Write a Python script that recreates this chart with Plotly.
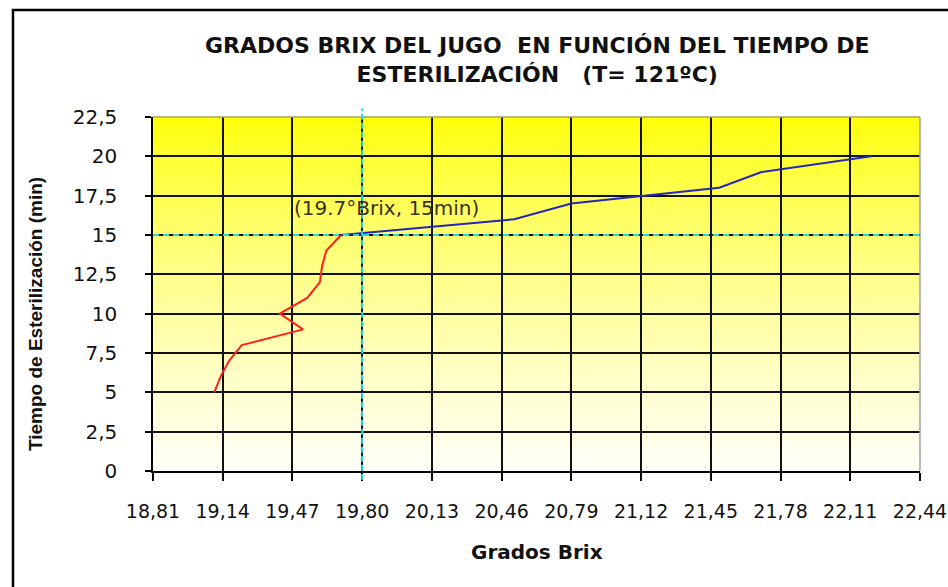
import plotly.graph_objects as go

# ---- data ----
red_time = [5, 6, 7, 8, 9, 10, 11, 12, 13, 14, 15]
red_brix = [19.10, 19.13, 19.17, 19.23, 19.52, 19.41, 19.54, 19.60, 19.61, 19.63, 19.70]

blue_time = [15, 16, 17, 18, 19, 20]
blue_brix = [19.70, 20.52, 20.79, 21.49, 21.69, 22.21]

x_ticks = [18.81, 19.14, 19.47, 19.80, 20.13, 20.46, 20.79, 21.12, 21.45, 21.78, 22.11, 22.44]
y_ticks = [0, 2.5, 5, 7.5, 10, 12.5, 15, 17.5, 20, 22.5]

ref_brix = 19.80
ref_time = 15
note_text = "(19.7°Brix, 15min)"
note_brix = 19.47
note_time = 16.7

title_text = "GRADOS BRIX DEL JUGO  EN FUNCIÓN DEL TIEMPO DE<br>ESTERILIZACIÓN   (T= 121ºC)"

fig = go.Figure()
fig.add_trace(go.Scatter(x=red_brix, y=red_time, mode="lines",
                         line=dict(color="#FF2020", width=2), showlegend=False))
fig.add_trace(go.Scatter(x=blue_brix, y=blue_time, mode="lines",
                         line=dict(color="#2626B8", width=2), showlegend=False))

shapes = []
# vertical gradient background (yellow at top -> near white at bottom)
n = 80
for i in range(n):
    f = (i + 0.5) / n  # from bottom
    b = int(round(250 * (1 - f) ** 0.75))
    shapes.append(dict(type="rect", xref="x domain", yref="y domain",
                       x0=0, x1=1, y0=i / n, y1=(i + 1) / n + 0.002,
                       fillcolor=f"rgb(255,255,{b})", line=dict(width=0), layer="below"))
# gray top / right plot border
shapes.append(dict(type="line", xref="x domain", yref="y domain", x0=0, x1=1, y0=1, y1=1,
                   line=dict(color="#A0A0A0", width=1.5), layer="above"))
shapes.append(dict(type="line", xref="x domain", yref="y domain", x0=1, x1=1, y0=0, y1=1,
                   line=dict(color="#A0A0A0", width=1.5), layer="above"))
# cyan dashed reference lines
shapes.append(dict(type="line", xref="x domain", yref="y", x0=0, x1=1, y0=ref_time, y1=ref_time,
                   line=dict(color="#25D5EA", width=2, dash="6px,4px"), layer="above"))
shapes.append(dict(type="line", xref="x", yref="y domain", x0=ref_brix, x1=ref_brix, y0=-0.025, y1=1.025,
                   line=dict(color="#25D5EA", width=2, dash="6px,3px"), layer="above"))
# outer frame
shapes.append(dict(type="rect", xref="paper", yref="paper", xsizemode="pixel", ysizemode="pixel",
                   xanchor=0, yanchor=1, x0=-140, x1=1000, y0=107, y1=-700,
                   line=dict(color="black", width=2.5), fillcolor="rgba(0,0,0,0)", layer="above"))

annotations = [
    dict(text=title_text, xref="paper", yref="paper", x=0.5, y=1, xanchor="center", yanchor="bottom",
         yshift=28, showarrow=False, align="center",
         font=dict(family="DejaVu Sans", size=22, color="#111", weight="bold")),
    dict(text=note_text, xref="x", yref="y", x=note_brix, y=note_time, xanchor="left", yanchor="middle",
         showarrow=False, font=dict(family="DejaVu Sans", size=20, color="#3a3020")),
    dict(text="Grados Brix", xref="paper", yref="paper", x=0.5, y=0, xanchor="center", yanchor="middle",
         yshift=-81, showarrow=False,
         font=dict(family="DejaVu Sans", size=20, color="#111", weight="bold")),
    dict(text="Tiempo de Esterilización (min)", xref="paper", yref="paper", x=0, y=0.5,
         xanchor="center", yanchor="middle", xshift=-118, yshift=-20, textangle=-90, showarrow=False,
         font=dict(family="Liberation Sans", size=19, color="#111", weight="bold")),
]

fig.update_layout(
    width=948, height=587,
    margin=dict(l=153, r=28, t=117, b=116),
    paper_bgcolor="white", plot_bgcolor="white",
    separators=",.",
    shapes=shapes, annotations=annotations,
    font=dict(family="DejaVu Sans", size=20, color="#111"),
)
fig.update_xaxes(range=[x_ticks[0], x_ticks[-1]], tickvals=x_ticks, tickformat=".2f",
                 showgrid=True, gridcolor="#111", gridwidth=1.5,
                 showline=True, linecolor="black", linewidth=1.5,
                 ticks="outside", ticklen=8, tickcolor="black", tickwidth=1.5,
                 ticklabelstandoff=14, ticklabeloverflow="allow", automargin=False, zeroline=False,
                 tickfont=dict(family="DejaVu Sans", size=19, color="#111"))
fig.update_yaxes(range=[y_ticks[0], y_ticks[-1]], tickvals=y_ticks,
                 showgrid=True, gridcolor="#111", gridwidth=1.5,
                 showline=True, linecolor="black", linewidth=1.5,
                 ticks="outside", ticklen=6, tickcolor="black", tickwidth=1.5,
                 ticklabelstandoff=24, automargin=False, zeroline=False,
                 tickfont=dict(family="DejaVu Sans", size=20, color="#111"))

fig.write_html("out.html", config={"displayModeBar": False},
               post_script="document.body.style.margin='0';document.body.style.overflow='hidden';")
